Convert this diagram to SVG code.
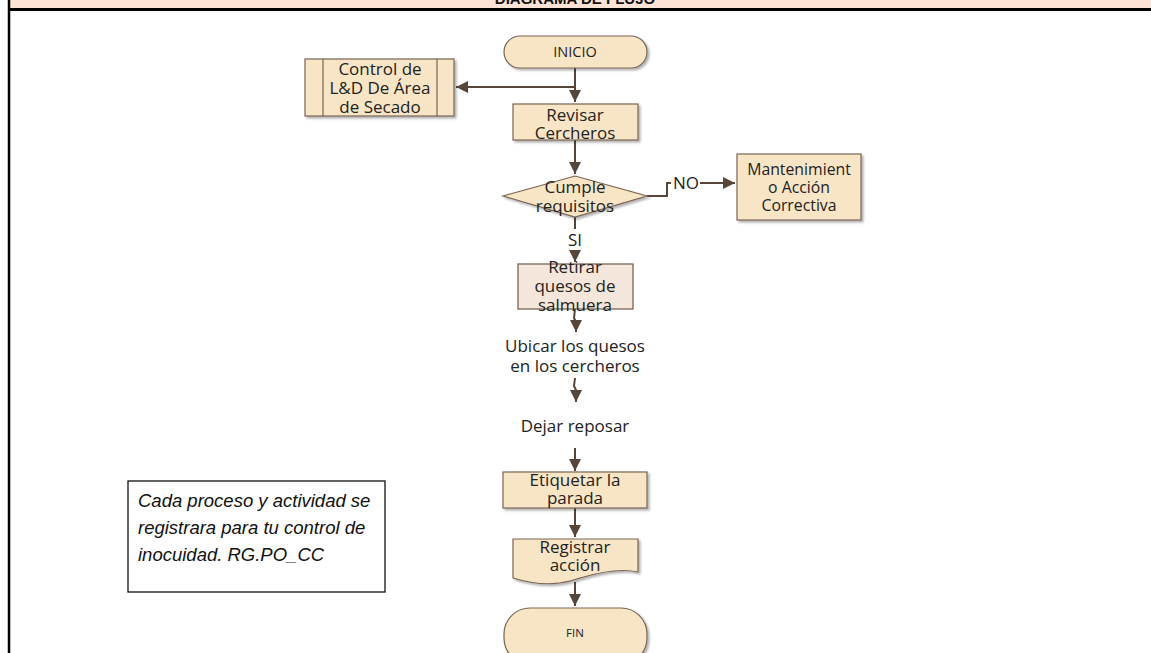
<svg xmlns="http://www.w3.org/2000/svg" width="1151" height="653" viewBox="0 0 1151 653">
<style>
.shape{fill:#F8E5C6;stroke:#7A6452;stroke-width:1.2}
.lt{fill:#F4E6DA;stroke:#6E5A4A;stroke-width:1.2}
.t{font-family:"Open Sans","Noto Sans",sans-serif;fill:#222;text-anchor:middle;font-size:17px}
.c{stroke:#56463A;stroke-width:2;fill:none}
.note{font-family:"Liberation Sans",Arial,sans-serif;font-style:italic;font-size:18.5px;fill:#111}
</style>
<defs>
<filter id="sh" x="-10%" y="-10%" width="130%" height="140%">
<feDropShadow dx="2" dy="2" stdDeviation="1.2" flood-color="#000" flood-opacity="0.3"/>
</filter>
<marker id="ah" viewBox="0 0 10 10" refX="10" refY="5" markerWidth="12" markerHeight="12" markerUnits="userSpaceOnUse" orient="auto">
<path d="M0,0 L10,5 L0,10 Z" fill="#56463A"/>
</marker>
</defs>
<rect x="0" y="0" width="1151" height="653" fill="#fff"/>
<g id="header">
<rect x="9" y="0" width="1142" height="8" fill="#FDE3D6"/>
<text x="575" y="4" font-family="Liberation Sans,Arial,sans-serif" font-weight="bold" font-size="15" text-anchor="middle" fill="#111">DIAGRAMA DE FLUJO</text>
<line x1="8" y1="9.5" x2="1151" y2="9.5" stroke="#000" stroke-width="3"/>
<line x1="9" y1="0" x2="9" y2="653" stroke="#000" stroke-width="2.5"/>
</g>
<g id="connectors">
<path class="c" d="M575,68 V102" marker-end="url(#ah)"/>
<path class="c" d="M575,87 H456" marker-end="url(#ah)"/>
<path class="c" d="M575,140 V174" marker-end="url(#ah)"/>
<path class="c" d="M647,196 H667 V183 H671"/>
<path class="c" d="M700,183 H735" marker-end="url(#ah)"/>
<path class="c" d="M575,217 V229"/>
<path class="c" d="M575,250 V262" marker-end="url(#ah)"/>
<path class="c" d="M575,309 L574,318 L576,322 V332" marker-end="url(#ah)"/>
<path class="c" d="M575,378 L574,386 L576,390 V402" marker-end="url(#ah)"/>
<path class="c" d="M575,448 V471" marker-end="url(#ah)"/>
<path class="c" d="M575,508 V537" marker-end="url(#ah)"/>
<path class="c" d="M575,582 V606" marker-end="url(#ah)"/>
<text class="t" x="686" y="189">NO</text>
<text class="t" x="575" y="246">SI</text>
</g>
<g id="inicio">
<rect class="shape" filter="url(#sh)" x="504" y="36" width="143" height="32" rx="16"/>
<text class="t" x="575" y="57" style="font-size:14.5px">INICIO</text>
</g>
<g id="control">
<rect class="shape" filter="url(#sh)" x="305" y="59" width="149" height="57"/>
<line x1="323" y1="59" x2="323" y2="116" stroke="#7A6452" stroke-width="1.2"/>
<line x1="437" y1="59" x2="437" y2="116" stroke="#7A6452" stroke-width="1.2"/>
<text class="t" x="380" y="75">Control de</text>
<text class="t" x="380" y="94">L&amp;D De Área</text>
<text class="t" x="380" y="113">de Secado</text>
</g>
<g id="revisar">
<rect class="shape" filter="url(#sh)" x="513" y="104" width="125" height="36"/>
<text class="t" x="575" y="121">Revisar</text>
<text class="t" x="575" y="139">Cercheros</text>
</g>
<g id="cumple">
<polygon class="shape" filter="url(#sh)" points="503,196 575,176 647,196 575,217"/>
<text class="t" x="575" y="193">Cumple</text>
<text class="t" x="575" y="212">requisitos</text>
</g>
<g id="mantenimiento">
<rect class="shape" filter="url(#sh)" x="737" y="154" width="124" height="66"/>
<text class="t" x="799" y="175" style="font-size:15.8px">Mantenimient</text>
<text class="t" x="799" y="193" style="font-size:15.8px">o Acción</text>
<text class="t" x="799" y="211" style="font-size:15.8px">Correctiva</text>
</g>
<g id="retirar">
<rect class="lt" x="518" y="264" width="115" height="45"/>
<text class="t" x="575" y="273">Retirar</text>
<text class="t" x="575" y="292">quesos de</text>
<text class="t" x="575" y="311">salmuera</text>
</g>
<g id="ubicar">
<text class="t" x="575" y="352">Ubicar los quesos</text>
<text class="t" x="575" y="372">en los cercheros</text>
</g>
<g id="dejar">
<text class="t" x="575" y="432">Dejar reposar</text>
</g>
<g id="etiquetar">
<rect class="shape" filter="url(#sh)" x="503" y="472" width="144" height="36"/>
<text class="t" x="575" y="486">Etiquetar la</text>
<text class="t" x="575" y="504">parada</text>
</g>
<g id="registrar">
<path class="shape" filter="url(#sh)" d="M513,539 H638 V572 C620,568 600,572 580,578 C565,583 545,588 513,578 Z"/>
<text class="t" x="575" y="553">Registrar</text>
<text class="t" x="575" y="571">acción</text>
</g>
<g id="fin">
<rect class="shape" filter="url(#sh)" x="504" y="608" width="143" height="56" rx="26"/>
<text class="t" x="575" y="637" style="font-size:11.5px">FIN</text>
</g>
<g id="note">
<rect x="128" y="481" width="257" height="111" fill="#fff" stroke="#111" stroke-width="1.3"/>
<text class="note" x="138" y="507">Cada proceso y actividad se</text>
<text class="note" x="138" y="534">registrara para tu control de</text>
<text class="note" x="138" y="561">inocuidad. RG.PO_CC</text>
</g>
</svg>
